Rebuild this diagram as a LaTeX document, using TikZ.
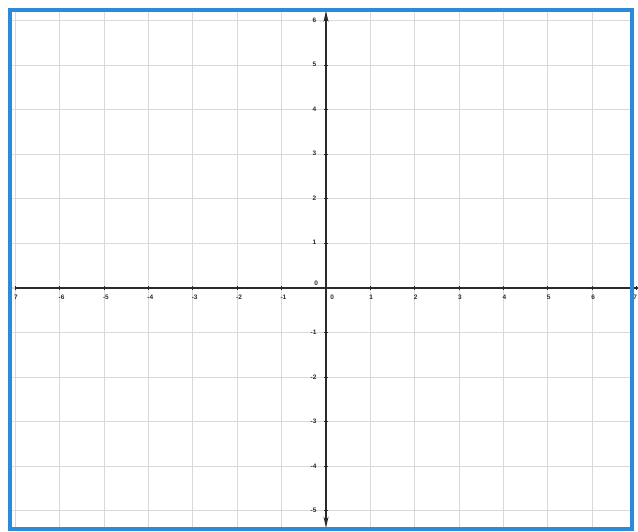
\documentclass[tikz,border=0pt]{standalone}
\usepackage{fontspec}
\setmainfont{Liberation Sans}
\usetikzlibrary{arrows.meta}
\definecolor{frameblue}{HTML}{2B8AD9}
\definecolor{gridgray}{HTML}{D9D9D9}
\definecolor{axisdark}{HTML}{2A2A2A}
\tikzset{
  gridline/.style={draw=gridgray, line width=1.1pt},
  axisline/.style={draw=axisdark, line width=1.4pt},
  ticklabel/.style={font=\fontsize{6.5}{7}\selectfont\bfseries, text=axisdark, inner sep=0pt},
  frame/.style={draw=frameblue, line width=4pt},
}
\begin{document}
\begin{tikzpicture}[x=1pt,y=1pt]
\useasboundingbox (0,0) rectangle (638,532);
\fill[white] (0,0) rectangle (638,532);
\begin{scope}
  \clip (10,3) rectangle (632,522);
  \begin{scope}[shift={(326,244)}, x=44.37pt, y=44.55pt]
    \foreach \k in {-7,...,7} \draw[gridline] (\k,-6) -- (\k,7);
    \foreach \k in {-5,...,6} \draw[gridline] (-8,\k) -- (8,\k);
  \end{scope}
\end{scope}
\begin{scope}[shift={(326,244)}, x=44.37pt, y=44.55pt]
  \coordinate (xl) at (-7,0);
  \coordinate (xr) at (7.05,0);
  \coordinate (yt) at (0,6.22);
  \coordinate (yb) at (0,-5.38);
  \draw[axisline] (xl) -- (xr);
  \draw[axisline, {Stealth[length=11pt,width=5pt]}-{Stealth[length=11pt,width=5pt]}] (yb) -- (yt);
  \foreach \k in {-7,...,7} \draw[axisdark, line width=1pt] (\k,-0.045) -- (\k,0.045);
  \foreach \k in {-5,...,6} \draw[axisdark, line width=1pt] (-0.04,\k) -- (0.04,\k);
  % x labels
  \node[ticklabel] (xm7) at (-6.99,-0.2) {7};
  \foreach \k in {-6,...,-1} \node[ticklabel] (xn\k) at (\k+0.04,-0.2) {\k};
  \node[ticklabel] (x0) at (0.14,-0.2) {0};
  \node[ticklabel] (o0) at (-0.22,0.1) {0};
  \foreach \k in {1,...,6} \node[ticklabel] (xp\k) at (\k+0.02,-0.2) {\k};
  \node[ticklabel] (xp7) at (6.97,-0.2) {7};
  % y labels
  \foreach \k in {1,...,6} \node[ticklabel] (yp\k) at (-0.26,\k+0.02) {\k};
  \foreach \k in {1,...,5} \node[ticklabel] (ym\k) at (-0.28,-\k) {-\k};
\end{scope}
\draw[frame] (10,3) rectangle (632,522);
\end{tikzpicture}
\end{document}
